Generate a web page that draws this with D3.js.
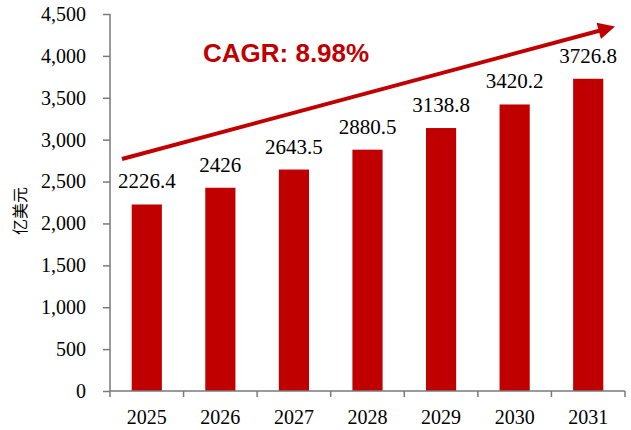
<!DOCTYPE html>
<html>
<head>
<meta charset="utf-8">
<script src="https://cdn.jsdelivr.net/npm/d3@7"></script>
<style>
  body { margin: 0; background: #fff; }
  .serif { font-family: "Liberation Serif", "Times New Roman", serif; }
</style>
</head>
<body>
<div id="chart"></div>
<script>
var years = ["2025", "2026", "2027", "2028", "2029", "2030", "2031"];
var values = [2226.4, 2426, 2643.5, 2880.5, 3138.8, 3420.2, 3726.8];
var yTicks = [0, 500, 1000, 1500, 2000, 2500, 3000, 3500, 4000, 4500];
var cagrLabel = "CAGR: 8.98%";
var unitLabel = "亿美元";

var red = "#C00000", axisColor = "#7a7a7a";
var serif = "'Liberation Serif', 'Times New Roman', serif";

var svg = d3.select("#chart").append("svg").attr("width", 631).attr("height", 430);

var x = d3.scaleBand().domain(years).range([110, 625]).padding(0);
var y = d3.scaleLinear().domain([0, 4500]).range([391, 14]);
var barW = x.bandwidth() * 0.41;

// bars
svg.append("g").selectAll("rect")
  .data(values)
  .enter()
  .append("rect")
    .attr("x", function (d, i) { return x(years[i]) + x.bandwidth() / 2 - barW / 2; })
    .attr("y", function (d) { return y(d); })
    .attr("width", barW)
    .attr("height", function (d) { return y(0) - y(d); })
    .attr("fill", red);

// value labels
svg.append("g").selectAll("text")
  .data(values)
  .enter()
  .append("text")
    .attr("x", function (d, i) { return x(years[i]) + x.bandwidth() / 2; })
    .attr("y", function (d) { return y(d) - 16; })
    .attr("text-anchor", "middle")
    .style("font-family", serif)
    .style("font-size", "21px")
    .attr("fill", "#000")
    .text(function (d) { return d; });

// y axis
var yAxis = d3.axisLeft(y).tickValues(yTicks).tickSize(7).tickPadding(17).tickFormat(d3.format(","));
var gy = svg.append("g").attr("transform", "translate(110,0)").call(yAxis);
gy.select(".domain").attr("stroke", axisColor).attr("stroke-width", 1.5).attr("d", "M0,14V391");
gy.selectAll(".tick line").attr("stroke", axisColor).attr("stroke-width", 1.5);
gy.selectAll(".tick text").attr("fill", "#000")
  .style("font-family", serif).style("font-size", "20px");

// x axis, ticks sit on category boundaries
var gx = svg.append("g").attr("transform", "translate(0,391)");
gx.append("line").attr("x1", 110).attr("x2", 625).attr("y1", 0).attr("y2", 0)
  .attr("stroke", axisColor).attr("stroke-width", 1.5);
gx.selectAll(".bnd")
  .data(years.concat(["end"]))
  .enter()
  .append("line")
    .attr("x1", function (d, i) { return i < years.length ? x(d) : x.range()[1]; })
    .attr("x2", function (d, i) { return i < years.length ? x(d) : x.range()[1]; })
    .attr("y1", 0).attr("y2", 6)
    .attr("stroke", axisColor).attr("stroke-width", 1.5);
gx.selectAll(".lbl")
  .data(years)
  .enter()
  .append("text")
    .attr("x", function (d) { return x(d) + x.bandwidth() / 2; })
    .attr("y", 33)
    .attr("text-anchor", "middle")
    .style("font-family", serif)
    .style("font-size", "20px")
    .attr("fill", "#000")
    .text(function (d) { return d; });

// unit label
svg.append("text")
  .attr("transform", "translate(26,211) rotate(-90)")
  .attr("text-anchor", "middle")
  .style("font-family", "'Noto Sans CJK SC', sans-serif")
  .style("font-size", "16px")
  .attr("fill", "#000")
  .text(unitLabel);

// growth arrow
svg.append("defs").append("marker")
  .attr("id", "head")
  .attr("viewBox", "0 0 10 10")
  .attr("refX", 2).attr("refY", 5)
  .attr("markerWidth", 4.5).attr("markerHeight", 4.2)
  .attr("orient", "auto")
  .append("path").attr("d", "M0,0L10,5L0,10Z").attr("fill", red);
svg.append("line")
  .attr("x1", 122).attr("y1", 159).attr("x2", 602).attr("y2", 30)
  .attr("stroke", red).attr("stroke-width", 4)
  .attr("marker-end", "url(#head)");

svg.append("text")
  .attr("x", 203).attr("y", 62)
  .style("font-family", "'Liberation Sans', Arial, sans-serif")
  .style("font-size", "26px")
  .style("font-weight", "bold")
  .attr("fill", red)
  .text(cagrLabel);
</script>
</body>
</html>
